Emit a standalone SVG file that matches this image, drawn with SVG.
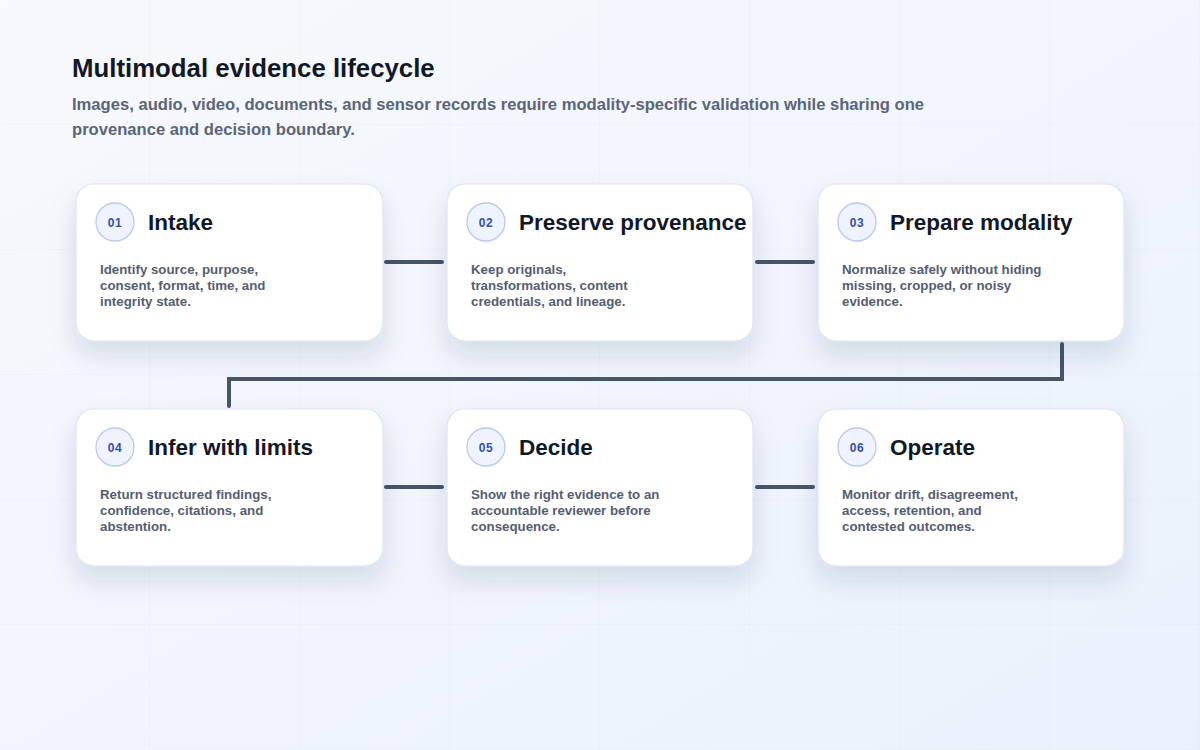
<svg xmlns="http://www.w3.org/2000/svg" width="1200" height="750" viewBox="0 0 1200 750">
  <defs>
    <linearGradient id="bg" x1="0" y1="0" x2="1" y2="1">
      <stop offset="0" stop-color="#f7f9fc"/>
      <stop offset="1" stop-color="#eaf1fd"/>
    </linearGradient>
    <pattern id="grid" x="0" y="0" width="150" height="125" patternUnits="userSpaceOnUse">
      <path d="M150 0V125M0 125H150" fill="none" stroke="#dfe5ef" stroke-width="1" opacity="0.55"/>
    </pattern>
    <filter id="shadow" x="-20%" y="-20%" width="140%" height="170%">
      <feDropShadow dx="0" dy="14" stdDeviation="13" flood-color="#1e2a55" flood-opacity="0.13"/>
    </filter>
    <style>
      .card { fill: #ffffff; stroke: #dde3ee; stroke-width: 1.2; filter: url(#shadow); }
      .badge { fill: #eef3fd; stroke: #b9c9ec; stroke-width: 1.3; }
      .num { font-family: "Liberation Sans", Arial, sans-serif; font-weight: 700; font-size: 12px; fill: #3250a8; text-anchor: middle; letter-spacing: 0.5px; }
      .title { font-family: "Liberation Sans", Arial, sans-serif; font-weight: 700; font-size: 22.5px; fill: #111827; }
      .body { font-family: "Liberation Sans", Arial, sans-serif; font-weight: 700; font-size: 13.3px; fill: #555e6f; }
      .h1 { font-family: "Liberation Sans", Arial, sans-serif; font-weight: 700; font-size: 25.8px; fill: #111827; }
      .sub { font-family: "Liberation Sans", Arial, sans-serif; font-weight: 700; font-size: 16.6px; fill: #5b6579; }
      .conn { fill: none; stroke: #475569; stroke-width: 4; stroke-linecap: round; stroke-linejoin: miter; }
    </style>
  </defs>

  <rect width="1200" height="750" fill="url(#bg)"/>
  <rect width="1200" height="750" fill="url(#grid)"/>

  <g id="header">
    <text class="h1" x="72" y="77">Multimodal evidence lifecycle</text>
    <text class="sub" x="72" y="110">Images, audio, video, documents, and sensor records require modality-specific validation while sharing one</text>
    <text class="sub" x="72" y="135">provenance and decision boundary.</text>
  </g>

  <g id="connectors">
    <path class="conn" d="M386 262H442"/>
    <path class="conn" d="M757 262H813"/>
    <path class="conn" d="M1062 344V379H229V406"/>
    <path class="conn" d="M386 487H442"/>
    <path class="conn" d="M757 487H813"/>
  </g>

  <g id="step01">
    <rect class="card" x="76" y="184" width="307" height="157" rx="18"/>
    <circle class="badge" cx="115" cy="222" r="19"/>
    <text class="num" x="115" y="226.5">01</text>
    <text class="title" x="148" y="230">Intake</text>
    <text class="body" x="100" y="274">Identify source, purpose,</text>
    <text class="body" x="100" y="290">consent, format, time, and</text>
    <text class="body" x="100" y="306">integrity state.</text>
  </g>

  <g id="step02">
    <rect class="card" x="447" y="184" width="306" height="157" rx="18"/>
    <circle class="badge" cx="486" cy="222" r="19"/>
    <text class="num" x="486" y="226.5">02</text>
    <text class="title" x="519" y="230">Preserve provenance</text>
    <text class="body" x="471" y="274">Keep originals,</text>
    <text class="body" x="471" y="290">transformations, content</text>
    <text class="body" x="471" y="306">credentials, and lineage.</text>
  </g>

  <g id="step03">
    <rect class="card" x="818" y="184" width="306" height="157" rx="18"/>
    <circle class="badge" cx="857" cy="222" r="19"/>
    <text class="num" x="857" y="226.5">03</text>
    <text class="title" x="890" y="230">Prepare modality</text>
    <text class="body" x="842" y="274">Normalize safely without hiding</text>
    <text class="body" x="842" y="290">missing, cropped, or noisy</text>
    <text class="body" x="842" y="306">evidence.</text>
  </g>

  <g id="step04">
    <rect class="card" x="76" y="409" width="307" height="157" rx="18"/>
    <circle class="badge" cx="115" cy="447" r="19"/>
    <text class="num" x="115" y="451.5">04</text>
    <text class="title" x="148" y="455">Infer with limits</text>
    <text class="body" x="100" y="499">Return structured findings,</text>
    <text class="body" x="100" y="515">confidence, citations, and</text>
    <text class="body" x="100" y="531">abstention.</text>
  </g>

  <g id="step05">
    <rect class="card" x="447" y="409" width="306" height="157" rx="18"/>
    <circle class="badge" cx="486" cy="447" r="19"/>
    <text class="num" x="486" y="451.5">05</text>
    <text class="title" x="519" y="455">Decide</text>
    <text class="body" x="471" y="499">Show the right evidence to an</text>
    <text class="body" x="471" y="515">accountable reviewer before</text>
    <text class="body" x="471" y="531">consequence.</text>
  </g>

  <g id="step06">
    <rect class="card" x="818" y="409" width="306" height="157" rx="18"/>
    <circle class="badge" cx="857" cy="447" r="19"/>
    <text class="num" x="857" y="451.5">06</text>
    <text class="title" x="890" y="455">Operate</text>
    <text class="body" x="842" y="499">Monitor drift, disagreement,</text>
    <text class="body" x="842" y="515">access, retention, and</text>
    <text class="body" x="842" y="531">contested outcomes.</text>
  </g>
</svg>
